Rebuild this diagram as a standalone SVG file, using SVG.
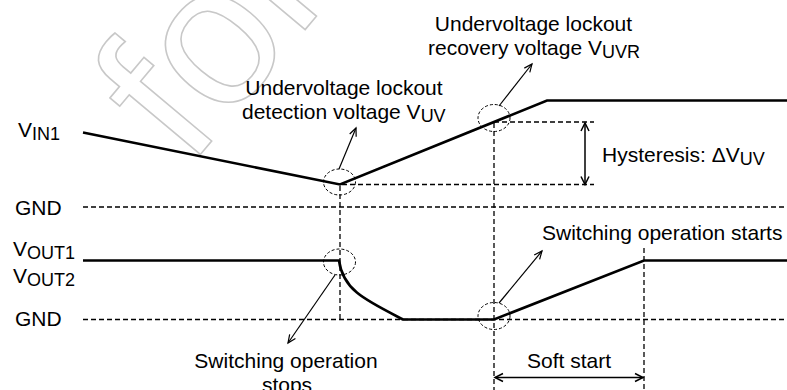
<svg xmlns="http://www.w3.org/2000/svg" width="787" height="390" viewBox="0 0 787 390">
<style>
text{font-family:"Liberation Sans",Arial,sans-serif;font-size:21px;fill:#000}
.sub{font-size:18px}
.wave{fill:none;stroke:#000;stroke-width:2.6;stroke-linejoin:miter}
.dash{fill:none;stroke:#000;stroke-width:1.3;stroke-dasharray:5 3}
.circ{fill:none;stroke:#000;stroke-width:1;stroke-dasharray:3 2}
.ann{fill:none;stroke:#000;stroke-width:1.2;marker-end:url(#arr)}
.dbl{fill:none;stroke:#000;stroke-width:1.5;marker-start:url(#arr2);marker-end:url(#arr2)}
.wm{font-size:200px;fill:none;stroke:#c8c8c8;stroke-width:1.6}
</style>
<defs>
<marker id="arr" viewBox="-10 -6 12 12" refX="0" refY="0" markerWidth="12" markerHeight="12" markerUnits="userSpaceOnUse" orient="auto">
<path d="M-8,-3.5 L0,0 L-8,3.5" fill="none" stroke="#000" stroke-width="1.2"/>
</marker>
<marker id="arr2" viewBox="-10 -6 12 12" refX="0" refY="0" markerWidth="12" markerHeight="12" markerUnits="userSpaceOnUse" orient="auto-start-reverse">
<path d="M-8,-4 L0,0 L-8,4" fill="none" stroke="#000" stroke-width="1.5"/>
</marker>
</defs>
<rect width="787" height="390" fill="#fff"/>
<g id="watermark">
<text class="wm" transform="translate(189,168) rotate(-50)">for</text>
</g>
<g id="guides">
<path class="dash" d="M83,207 H787"/>
<path class="dash" d="M83,319.5 H787"/>
<path class="dash" d="M340,186 V319.5"/>
<path class="dash" d="M494,123 V390"/>
<path class="dash" d="M644,248 V390"/>
<path class="dash" d="M342,184.5 H594"/>
<path class="dash" d="M494,122 H594"/>
</g>
<g id="waveforms">
<path id="vin1" class="wave" d="M83,132.5 L340,184.5 L547,100.5 L787,100.5"/>
<path id="vout" class="wave" d="M83,260.5 L339,260.5 C343,290 365,300 403,319.5 L494,319.5 L644,260.5 L787,260.5"/>
</g>
<g id="markers">
<ellipse class="circ" cx="339.5" cy="182" rx="16" ry="13"/>
<ellipse class="circ" cx="494" cy="118" rx="16" ry="13.5"/>
<ellipse class="circ" cx="339.5" cy="262" rx="16" ry="13"/>
<ellipse class="circ" cx="494" cy="316" rx="16" ry="13.5"/>
</g>
<g id="connectors">
<path class="ann" d="M339,169 L356,128"/>
<path class="ann" d="M499,106 L532,64"/>
<path class="ann" d="M335,275 L288,343"/>
<path class="ann" d="M499,303 L542,251"/>
<path class="dbl" d="M585,123 V184.5"/>
<path class="dbl" d="M495,377.5 H643"/>
</g>
<g id="labels">
<text x="18" y="136.5">V<tspan class="sub" dy="3">IN1</tspan></text>
<text x="15" y="214.5">GND</text>
<text x="13" y="255.5">V<tspan class="sub" dy="3">OUT1</tspan></text>
<text x="13" y="282.5">V<tspan class="sub" dy="3">OUT2</tspan></text>
<text x="15" y="326">GND</text>
</g>
<g id="uv-label">
<text x="344" y="95" text-anchor="middle">Undervoltage lockout</text>
<text x="242" y="118.5">detection voltage V<tspan class="sub" dy="3">UV</tspan></text>
</g>
<g id="uvr-label">
<text x="533.5" y="31" text-anchor="middle">Undervoltage lockout</text>
<text x="428" y="55">recovery voltage V<tspan class="sub" dy="3">UVR</tspan></text>
</g>
<g id="hyst-label">
<text x="602" y="161.5">Hysteresis: ΔV<tspan class="sub" dy="3">UV</tspan></text>
</g>
<g id="start-label">
<text x="542" y="240">Switching operation starts</text>
</g>
<g id="soft-label">
<text x="569" y="368" text-anchor="middle">Soft start</text>
</g>
<g id="stop-label">
<text x="286" y="368" text-anchor="middle">Switching operation</text>
<text x="287" y="392" text-anchor="middle">stops</text>
</g>
</svg>
